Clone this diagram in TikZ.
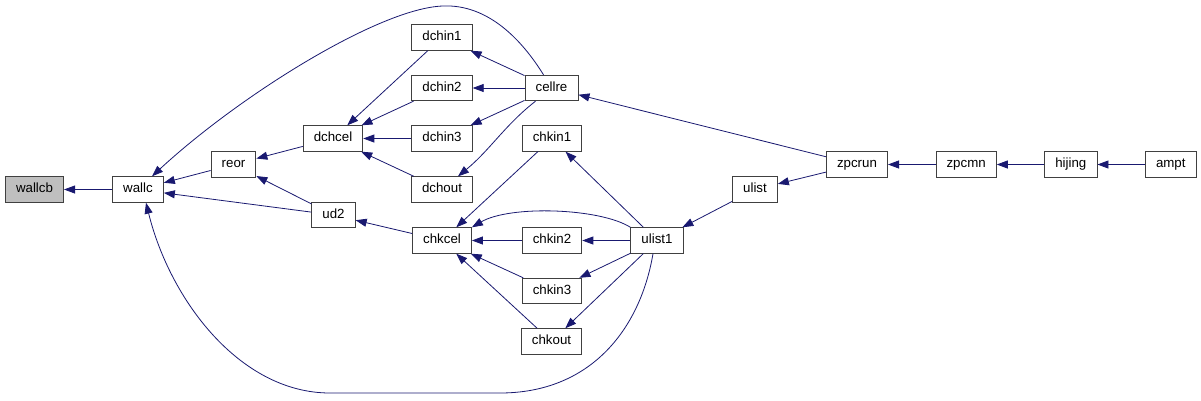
\documentclass[tikz,border=0pt]{standalone}
\usepackage{fontspec}
\setmainfont{Liberation Sans}
\usetikzlibrary{arrows.meta, positioning}

\definecolor{callblue}{HTML}{191970}
\definecolor{boxline}{HTML}{404040}
\definecolor{boxgray}{HTML}{BFBFBF}

\begin{document}
\begin{tikzpicture}[
  x=1pt, y=-1pt,
  node distance = 47.5pt,
  every node/.style = {font=\fontsize{13.3}{16}\selectfont},
  func/.style = {
    draw=boxline, rectangle, line width=0.9pt, fill=white,
    minimum height=25.5pt, inner xsep=10.6pt, inner ysep=0pt,
    text height=9.6pt, text depth=2.8pt
  },
  focus/.style = {func, fill=boxgray},
  call/.style = {-{Triangle[length=11pt, width=8pt]}, draw=callblue,
    fill=none, line width=0.8pt}
]
\useasboundingbox (0,0) rectangle (1201,400);

\node[focus] (wallcb) at (34.5,189.5) {wallcb};
\node[func] (wallc) at (138,189.5) {wallc};
\node[func] (reor) at (233.5,164.5) {reor};
\node[func] (dchcel) at (333,138.5) {dchcel};
\node[func] (ud2) at (333.5,215) {ud2};
\node[func] (dchin1) at (442,37.5) {dchin1};
\node[func] (dchin2) at (442,88) {dchin2};
\node[func] (dchin3) at (442,138.5) {dchin3};
\node[func] (dchout) at (442,189.5) {dchout};
\node[func] (chkcel) at (442,240.5) {chkcel};
\node[func] (cellre) at (551.5,88) {cellre};
\node[func] (chkin1) at (552,138.5) {chkin1};
\node[func] (chkin2) at (552,240.5) {chkin2};
\node[func] (chkin3) at (552,291) {chkin3};
\node[func] (chkout) at (551.5,341.5) {chkout};
\node[func] (ulist1) at (657,240.5) {ulist1};
\node[func] (ulist) at (755,189.5) {ulist};
\node[func] (zpcrun) at (857,164.5) {zpcrun};
\node[func, right=of zpcrun] (zpcmn) {zpcmn};
\node[func, right=of zpcmn] (hijing) {hijing};
\node[func, right=of hijing] (ampt) {ampt};

\draw[call] (wallc) -- (wallcb);
\draw[call] (reor) -- (wallc);
\draw[call] (ud2) -- (wallc);
\draw[call] (dchcel) -- (reor);
\draw[call] (ud2) -- (reor);
\draw[call] (dchin1) -- (dchcel);
\draw[call] (dchin2) -- (dchcel);
\draw[call] (dchin3) -- (dchcel);
\draw[call] (dchout) -- (dchcel);
\draw[call] (cellre) -- (dchin1);
\draw[call] (cellre) -- (dchin2);
\draw[call] (cellre) -- (dchin3);
\draw[call] (chkcel) -- (ud2);
\draw[call] (chkin1) -- (chkcel);
\draw[call] (chkin2) -- (chkcel);
\draw[call] (chkin3) -- (chkcel);
\draw[call] (chkout) -- (chkcel);
\draw[call] (ulist1) -- (chkin1);
\draw[call] (ulist1) -- (chkin2);
\draw[call] (ulist1) -- (chkin3);
\draw[call] (ulist1) -- (chkout);
\draw[call] (ulist) -- (ulist1);
\draw[call] (zpcrun) -- (ulist);
\draw[call] (zpcrun) -- (cellre);
\draw[call] (zpcmn) -- (zpcrun);
\draw[call] (hijing) -- (zpcmn);
\draw[call] (ampt) -- (hijing);

% curved calls
\draw[call] ([xshift=-8pt]cellre.north) .. controls (522,40) and (488,4) .. (443,6)
  .. controls (380,8) and (240,95) .. ([xshift=14pt]wallc.north);
\draw[call] ([xshift=-16pt]cellre.south) .. controls (505,125) and (490,150)
  .. ([xshift=16pt]dchout.north);
\draw[call] (ulist1.north west) .. controls (600,208) and (510,205) .. (chkcel.north east);
\draw[call] ([xshift=-4pt]ulist1.south) .. controls (640,330) and (590,393) .. (500,393)
  .. controls (440,393) and (380,393) .. (330,393)
  .. controls (240,393) and (170,300) .. ([xshift=8pt]wallc.south);

\end{tikzpicture}
\end{document}
